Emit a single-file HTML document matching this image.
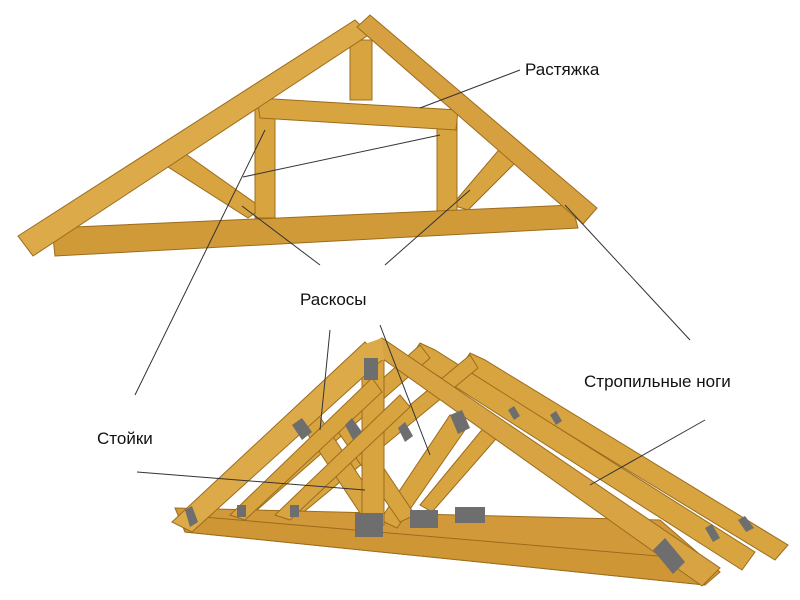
<!DOCTYPE html>
<html><head><meta charset="utf-8"><style>
body{margin:0;background:#fff}
svg{display:block}
text{font-family:"Liberation Sans",sans-serif;font-size:17px;fill:#111}
</style></head><body>
<svg width="800" height="600" viewBox="0 0 800 600">
<g stroke="#9c6c1c" stroke-width="1" fill="#d8a440">
<!-- top truss -->
<polygon points="350,40 372,40 372,100 350,100"/>
<polygon points="165,165 180,150 262,208 248,218"/>
<polygon points="452,205 503,145 520,158 468,210"/>
<polygon points="255,100 275,100 275,218 255,218"/>
<polygon points="437,110 457,110 457,215 437,215"/>
<polygon points="257,98 458,110 456,130 260,118" />
<polygon points="52,228 572,205 578,228 55,256" fill="#d19a38"/>
<polygon points="18,236 355,20 370,34 33,256" fill="#dcaa48"/>
<polygon points="357,27 370,15 597,208 583,224" fill="#d6a040"/>
<!-- bottom trusses back -->
<polygon points="470,353 485,360 788,545 775,560 460,368"/>
<polygon points="420,343 435,350 755,552 742,570 410,358"/>
<polygon points="225,520 420,345 430,358 240,525"/>
<polygon points="272,520 470,355 478,368 288,525"/>
<!-- bottom chord -->
<polygon points="175,508 660,520 720,572 705,585 185,532" fill="#d2993a"/>
<polygon points="180,515 705,560 705,585 185,532" fill="#cf9636"/>
<!-- braces -->
<polygon points="295,415 312,405 387,518 370,528"/>
<polygon points="380,520 450,415 467,427 397,528"/>
<polygon points="330,420 345,410 415,515 400,522"/>
<polygon points="420,505 490,420 502,432 432,512"/>
<polygon points="362,355 384,355 384,525 362,525"/>
<polygon points="230,515 372,378 382,392 245,520"/>
<polygon points="275,515 400,395 410,407 290,520"/>
<!-- front truss -->
<polygon points="172,522 365,342 382,360 192,532" fill="#dcaa48"/>
<polygon points="366,347 382,338 720,568 702,586" fill="#d8a443"/>
<polygon points="362,345 382,338 384,360 365,360" fill="#dcaa48" stroke="none"/>
</g>
<g fill="#6e6e6e">
<rect x="364" y="358" width="14" height="22"/>
<rect x="355" y="513" width="28" height="24"/>
<rect x="410" y="510" width="28" height="18"/>
<rect x="455" y="507" width="30" height="16"/>
<polygon points="653,550 665,538 685,562 673,574"/>
<polygon points="292,425 302,418 312,432 302,440"/>
<polygon points="345,425 352,418 362,432 353,440"/>
<polygon points="450,415 462,410 470,428 458,434"/>
<polygon points="398,428 405,422 413,436 405,442"/>
<polygon points="185,510 192,506 198,522 190,527"/>
<rect x="237" y="505" width="9" height="12"/>
<rect x="290" y="505" width="9" height="12"/>
<polygon points="705,528 712,524 720,538 713,542"/>
<polygon points="738,520 745,516 754,528 746,532"/>
<polygon points="508,410 514,406 520,416 514,420"/>
<polygon points="550,415 556,411 562,421 556,425"/>
</g>
<g stroke="#333" stroke-width="1" fill="none">
<line x1="520" y1="70" x2="420" y2="108"/>
<line x1="440" y1="135" x2="243" y2="177"/>
<line x1="265" y1="130" x2="135" y2="395"/>
<line x1="320" y1="265" x2="242" y2="206"/>
<line x1="385" y1="265" x2="470" y2="190"/>
<line x1="690" y1="340" x2="565" y2="205"/>
<line x1="705" y1="420" x2="590" y2="485"/>
<line x1="330" y1="330" x2="320" y2="430"/>
<line x1="380" y1="325" x2="430" y2="455"/>
<line x1="137" y1="472" x2="365" y2="490"/>
</g>
<text x="525" y="75">Растяжка</text>
<text x="300" y="305">Раскосы</text>
<text x="584" y="387">Стропильные ноги</text>
<text x="97" y="444">Стойки</text>
</svg>
</body></html>
